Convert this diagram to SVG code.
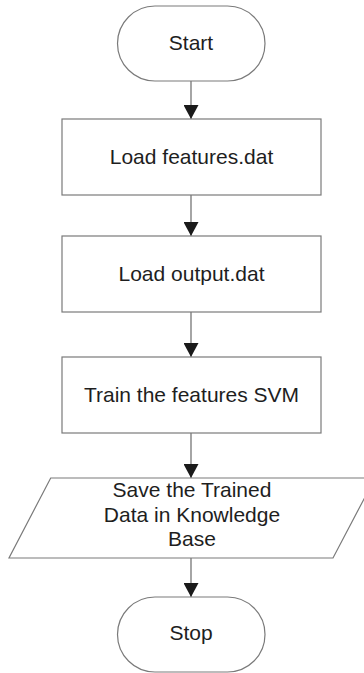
<svg xmlns="http://www.w3.org/2000/svg" width="364" height="673" viewBox="0 0 364 673">
<defs>
<style>
.s{fill:#fff;stroke:#7a7a7a;stroke-width:1.2}
.t{font-family:"Liberation Sans",Arial,sans-serif;font-size:21px;fill:#1e1e1e;text-anchor:middle}
.c{stroke:#6a6a6a;stroke-width:1.2;fill:none}
</style>
<marker id="ah" viewBox="0 0 14 15" refX="14" refY="7.5" markerWidth="14" markerHeight="15" markerUnits="userSpaceOnUse" orient="auto">
<path d="M0,0 L14,7.5 L0,15 Z" fill="#1a1a1a"/>
</marker>
</defs>
<rect width="364" height="673" fill="#fff"/>
<g id="connectors">
<line class="c" x1="191" y1="81" x2="191" y2="119" marker-end="url(#ah)"/>
<line class="c" x1="191" y1="195" x2="191" y2="236" marker-end="url(#ah)"/>
<line class="c" x1="191" y1="312" x2="191" y2="357" marker-end="url(#ah)"/>
<line class="c" x1="191" y1="433" x2="191" y2="478" marker-end="url(#ah)"/>
<line class="c" x1="191" y1="558" x2="191" y2="597" marker-end="url(#ah)"/>
</g>
<g id="start">
<rect class="s" x="117.5" y="6" width="147.5" height="75" rx="37.5" ry="37.5"/>
<text class="t" x="191" y="50">Start</text>
</g>
<g id="load-features">
<rect class="s" x="62" y="119" width="259" height="76"/>
<text class="t" x="191.5" y="163.5">Load features.dat</text>
</g>
<g id="load-output">
<rect class="s" x="62" y="236" width="259" height="76"/>
<text class="t" x="191.5" y="280.5">Load output.dat</text>
</g>
<g id="train">
<rect class="s" x="62" y="357" width="259" height="76"/>
<text class="t" x="191.5" y="401.5">Train the features SVM</text>
</g>
<g id="save">
<polygon class="s" points="50.7,478 375,478 333,558 9,558"/>
<text class="t" x="192" y="497">Save the Trained</text>
<text class="t" x="192" y="521.5">Data in Knowledge</text>
<text class="t" x="192" y="546">Base</text>
</g>
<g id="stop">
<rect class="s" x="117.5" y="597" width="147.5" height="75" rx="37.5" ry="37.5"/>
<text class="t" x="191" y="640">Stop</text>
</g>
</svg>
